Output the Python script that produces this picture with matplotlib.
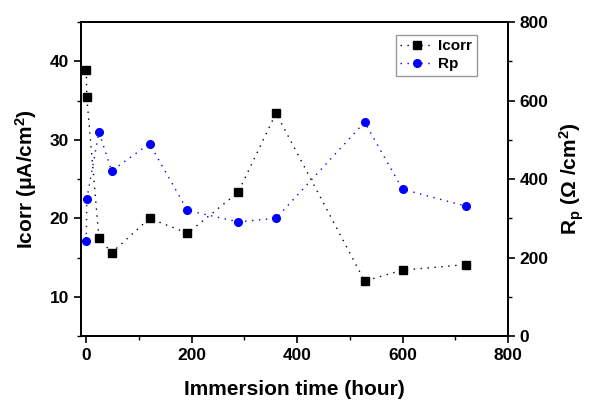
import matplotlib.pyplot as plt
from matplotlib.ticker import MultipleLocator

plt.rcParams['font.family'] = ['Liberation Sans', 'DejaVu Sans']
plt.rcParams['font.weight'] = 'bold'
plt.rcParams['mathtext.fontset'] = 'custom'
plt.rcParams['mathtext.rm'] = 'Liberation Sans:bold'
plt.rcParams['mathtext.it'] = 'Liberation Sans:bold'
plt.rcParams['mathtext.bf'] = 'Liberation Sans:bold'

# Dati
time_h = [0, 1, 24, 48, 120, 192, 288, 360, 528, 600, 720]
icorr = [38.9, 35.4, 17.5, 15.6, 20.0, 18.1, 23.3, 33.4, 12.0, 13.4, 14.1]
rp = [242, 349, 520, 421, 490, 320, 291, 300, 545, 374, 331]

fig = plt.figure(figsize=(5.9, 4.01), dpi=100)
ax = fig.add_axes([0.1373, 0.162, 0.7237, 0.783])
ax2 = ax.twinx()

l1, = ax.plot(time_h, icorr, color='black', marker='s', markersize=5.8,
              linestyle=(0, (1, 4)), linewidth=1.0, label='Icorr')
l2, = ax2.plot(time_h, rp, color='blue', marker='o', markersize=5.5,
               linestyle=(0, (1, 4)), linewidth=1.0, label='Rp')

ax.set_xlim(-10, 800)
ax.set_ylim(5, 45)
ax2.set_ylim(0, 800)

ax.xaxis.set_major_locator(MultipleLocator(200))
ax.xaxis.set_minor_locator(MultipleLocator(100))
ax.yaxis.set_major_locator(MultipleLocator(10))
ax.yaxis.set_minor_locator(MultipleLocator(5))
ax2.yaxis.set_major_locator(MultipleLocator(200))
ax2.yaxis.set_minor_locator(MultipleLocator(100))

for a in (ax, ax2):
    for s in a.spines.values():
        s.set_linewidth(1.3)
    a.tick_params(which='major', length=5, width=1.2, labelsize=12.5)
    a.tick_params(which='minor', length=3, width=1.0)
ax.tick_params(axis='x', which='both', top=False)

ax.set_xlabel('Immersion time (hour)', fontsize=15, fontweight='bold', labelpad=12)
ax.set_ylabel('Icorr (μA/cm$^2$)', fontsize=15, fontweight='bold', labelpad=8)
ax2.set_ylabel('R$_p$ (Ω /cm$^2$)', fontsize=15, fontweight='bold', labelpad=6)

leg = ax.legend([l1, l2], ['Icorr', 'Rp'], loc='upper left',
                bbox_to_anchor=(0.737, 0.96), borderaxespad=0, fancybox=False,
                edgecolor='grey', fontsize=11, handlelength=2.2,
                borderpad=0.3, labelspacing=0.25, handletextpad=0.3)
leg.get_frame().set_linewidth(1.0)

plt.savefig('out.png', dpi=100)
